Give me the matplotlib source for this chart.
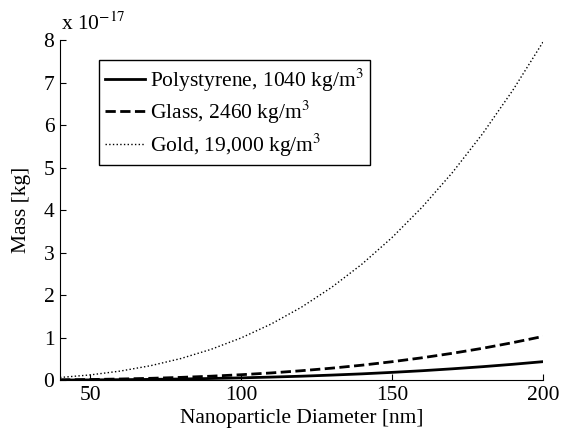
import numpy as np
import matplotlib.pyplot as plt

plt.rcParams['font.family'] = ['Liberation Serif', 'DejaVu Serif']
plt.rcParams['mathtext.fontset'] = 'stix'

# diameter [nm] and mass [x 1e-17 kg]
diam = [40, 50, 60, 70, 80, 90, 100, 110, 120, 130, 140, 150, 160, 170, 180, 190, 200]
poly = [0.0035, 0.0068, 0.012, 0.019, 0.028, 0.040, 0.055, 0.073, 0.094, 0.120,
        0.149, 0.184, 0.223, 0.268, 0.318, 0.374, 0.436]
glass = [0.008, 0.016, 0.028, 0.044, 0.066, 0.094, 0.129, 0.171, 0.223, 0.283,
         0.353, 0.435, 0.528, 0.633, 0.751, 0.884, 1.030]
gold = [0.064, 0.124, 0.215, 0.341, 0.509, 0.725, 0.995, 1.324, 1.719, 2.186,
        2.730, 3.358, 4.075, 4.888, 5.802, 6.824, 7.959]

labels = ['Polystyrene, 1040 kg/m$^3$', 'Glass, 2460 kg/m$^3$', 'Gold, 19,000 kg/m$^3$']

fs = 15.5
fig = plt.figure(figsize=(5.61, 4.37), dpi=100)
ax = fig.add_axes([0.107, 0.130, 0.861, 0.778])

ax.plot(diam, poly, 'k-', lw=2, label=labels[0])
ax.plot(diam, glass, 'k--', lw=2, label=labels[1])
ax.plot(diam, gold, 'k:', lw=1, label=labels[2])

ax.set_xlim(40, 200)
ax.set_ylim(0, 8)
ax.set_xticks([50, 100, 150, 200])
ax.set_yticks(range(0, 9))
ax.spines['top'].set_visible(False)
ax.spines['right'].set_visible(False)
ax.tick_params(direction='in', length=4, labelsize=fs, pad=4)

ax.set_xlabel('Nanoparticle Diameter [nm]', fontsize=fs, labelpad=3)
ax.set_ylabel('Mass [kg]', fontsize=fs, labelpad=9)
ax.text(0.003, 1.015, r'x 10$^{-17}$', transform=ax.transAxes, fontsize=fs,
        ha='left', va='bottom')

leg = ax.legend(loc='upper left', bbox_to_anchor=(0.080, 0.942), fontsize=fs,
                frameon=True, fancybox=False, edgecolor='k', handlelength=1.85,
                handletextpad=0.22, borderpad=0.3, labelspacing=0.25,
                borderaxespad=0, framealpha=1)
leg.get_frame().set_linewidth(1.0)

fig.savefig('out.png', dpi=100)
